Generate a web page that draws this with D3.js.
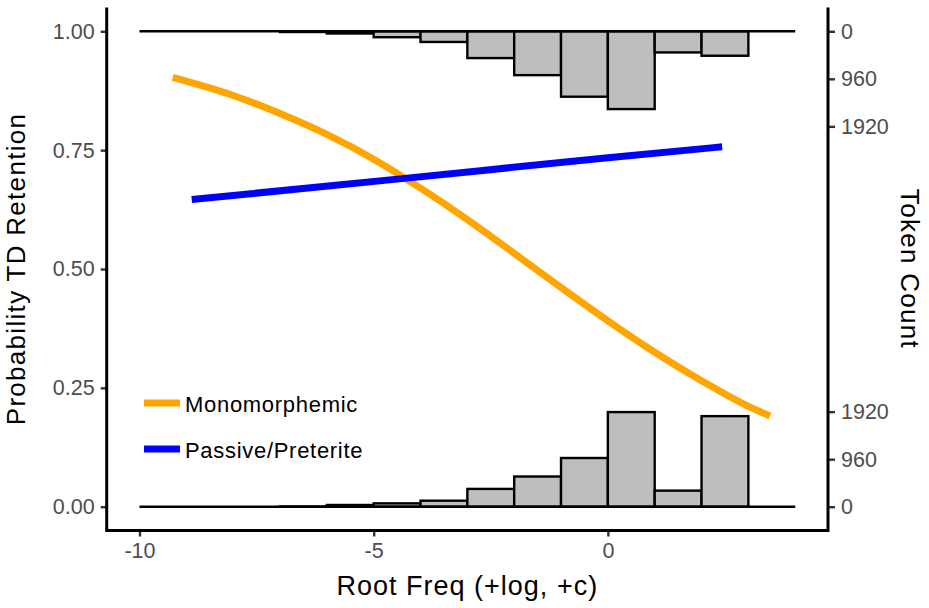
<!DOCTYPE html>
<html>
<head>
<meta charset="utf-8">
<script src="https://cdn.jsdelivr.net/npm/d3@7"></script>
<style>
  body { margin: 0; background: #fff; }
  svg { font-family: "Liberation Sans", Arial, sans-serif; }
</style>
</head>
<body>
<script>
// histogram bins (left edges, width 1)
const binStarts = [-10, -9, -8, -7, -6, -5, -4, -3, -2, -1, 0, 1, 2, 3];
// token counts per bin, top histogram (hangs from 1.00) and bottom one
const topCounts = [0, 0, 0, 15, 45, 120, 216, 541, 886, 1321, 1571, 427, 494, 0];
const bottomCounts = [0, 0, 0, 5, 35, 68, 122, 360, 610, 984, 1911, 325, 1829, 0];

// fitted curves
const monoX = [-9.29, -8, -7, -6, -5, -4, -3, -2, -1, 0, 1, 2, 3, 3.46];
const monoY = [0.903, 0.865, 0.827, 0.783, 0.731, 0.670, 0.604, 0.533, 0.461, 0.391, 0.325, 0.265, 0.211, 0.191];
const passX = [-8.885, -4.5, 0, 2.44];
const passY = [0.646, 0.689, 0.734, 0.757];

const yTicks = [0, 0.25, 0.5, 0.75, 1];
const countTicks = [0, 960, 1920];
const xTicks = [-10, -5, 0];

const W = 929, H = 608;
const mLeft = 106.7, mRight = 828, mTop = 7.5, mBottom = 530.5;

const svg = d3.select("body").append("svg")
  .attr("width", W)
  .attr("height", H);

const x = d3.scaleLinear().domain([-10.7, 4.7]).range([mLeft, mRight]);
const y = d3.scaleLinear().domain([-0.05, 1.05]).range([mBottom, mTop]);
// counts: 9600 tokens span the whole 0..1 probability range
const cBottom = d3.scaleLinear().domain([0, 9600]).range([y(0), y(1)]);
const cTop = d3.scaleLinear().domain([0, 9600]).range([y(1), y(0)]);

// histograms
function hist(counts, cs, cls) {
  const g = svg.append("g").attr("class", cls);
  g.selectAll("rect")
    .data(binStarts.map((b, i) => ({ b: b, n: counts[i] })).filter(d => d.n > 0))
    .join("rect")
      .attr("x", d => x(d.b))
      .attr("width", d => x(d.b + 1) - x(d.b))
      .attr("y", d => Math.min(cs(0), cs(d.n)))
      .attr("height", d => Math.abs(cs(d.n) - cs(0)))
      .attr("fill", "#bebebe")
      .attr("stroke", "#000")
      .attr("stroke-width", 2.4);
  g.append("line")
    .attr("x1", x(binStarts[0]))
    .attr("x2", x(binStarts[binStarts.length - 1] + 1))
    .attr("y1", cs(0))
    .attr("y2", cs(0))
    .attr("stroke", "#000")
    .attr("stroke-width", 2.4);
}
hist(topCounts, cTop, "hist-top");
hist(bottomCounts, cBottom, "hist-bottom");

// curves
const line = d3.line()
  .x(d => x(d[0]))
  .y(d => y(d[1]))
  .curve(d3.curveMonotoneX);

svg.append("path")
  .datum(monoX.map((v, i) => [v, monoY[i]]))
  .attr("d", line)
  .attr("fill", "none")
  .attr("stroke", "#FFA500")
  .attr("stroke-width", 7);

svg.append("path")
  .datum(passX.map((v, i) => [v, passY[i]]))
  .attr("d", line)
  .attr("fill", "none")
  .attr("stroke", "#0000FF")
  .attr("stroke-width", 7);

// axes
function styleAxis(g) {
  g.select(".domain").remove();
  g.selectAll(".tick line").attr("stroke", "#333").attr("stroke-width", 2.4);
  g.selectAll(".tick text")
    .attr("fill", "#4d4d4d")
    .style("font-size", "21.5px")
    .style("font-family", "'Liberation Sans', Arial, sans-serif");
}

svg.append("g")
  .attr("transform", `translate(${mLeft},0)`)
  .call(d3.axisLeft(y).tickValues(yTicks).tickFormat(d3.format(".2f")).tickSize(6).tickPadding(6))
  .call(styleAxis);

svg.append("g")
  .attr("transform", `translate(0,${mBottom})`)
  .call(d3.axisBottom(x).tickValues(xTicks).tickFormat(d => String(d)).tickSize(6).tickPadding(6))
  .call(styleAxis);

svg.append("g")
  .attr("transform", `translate(${mRight},0)`)
  .call(d3.axisRight(cBottom).tickValues(countTicks).tickFormat(d => String(d)).tickSize(7).tickPadding(6))
  .call(styleAxis);

svg.append("g")
  .attr("transform", `translate(${mRight},0)`)
  .call(d3.axisRight(cTop).tickValues(countTicks).tickFormat(d => String(d)).tickSize(7).tickPadding(6))
  .call(styleAxis);

// axis lines
svg.append("path")
  .attr("d", `M${mLeft},${mTop}V${mBottom}H${mRight}V${mTop}`)
  .attr("fill", "none")
  .attr("stroke", "#000")
  .attr("stroke-width", 3);

// titles
svg.append("text")
  .attr("x", (mLeft + mRight) / 2)
  .attr("y", 595)
  .attr("text-anchor", "middle")
  .style("font-size", "27px")
  .style("letter-spacing", "1px")
  .text("Root Freq (+log, +c)");

svg.append("text")
  .attr("transform", `translate(24.5,${y(0.5)}) rotate(-90)`)
  .attr("text-anchor", "middle")
  .style("font-size", "26px")
  .style("letter-spacing", "1.3px")
  .text("Probability TD Retention");

svg.append("text")
  .attr("transform", `translate(901,${y(0.5)}) rotate(90)`)
  .attr("text-anchor", "middle")
  .style("font-size", "26px")
  .style("letter-spacing", "1.3px")
  .text("Token Count");

// legend
const legendNames = ["Monomorphemic", "Passive/Preterite"];
const legendColors = ["#FFA500", "#0000FF"];
const lg = svg.append("g").attr("transform", "translate(144,403)");
legendNames.forEach((name, i) => {
  const row = lg.append("g").attr("transform", `translate(0,${i * 46})`);
  row.append("line")
    .attr("x1", 0).attr("x2", 36)
    .attr("stroke", legendColors[i])
    .attr("stroke-width", 7);
  row.append("text")
    .attr("x", 41)
    .attr("y", 8.5)
    .style("font-size", "22px")
    .style("letter-spacing", "0.7px")
    .text(name);
});
</script>
</body>
</html>
